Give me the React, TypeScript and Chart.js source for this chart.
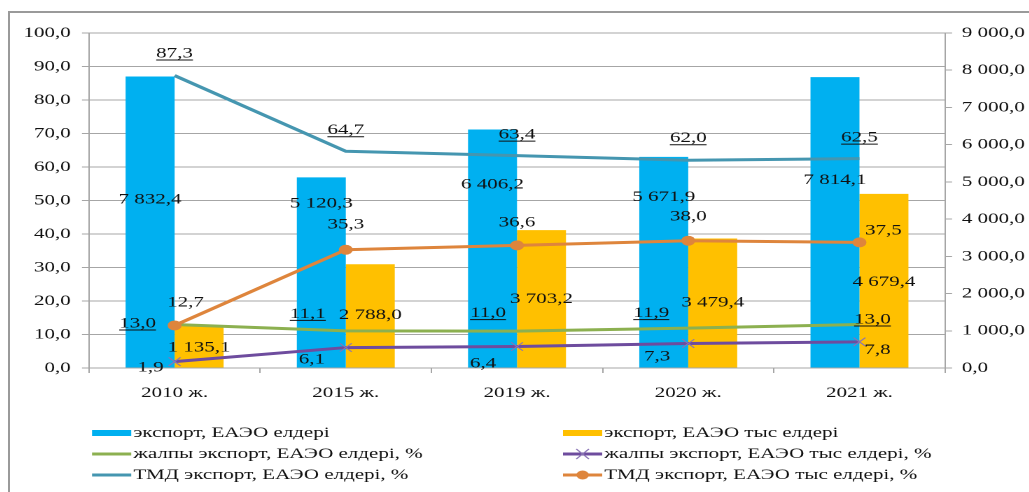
import React, { useEffect, useRef } from "react";
import { Chart, registerables } from "chart.js";

Chart.register(...registerables);

// ---- data ----
const years = ["2010 ж.", "2015 ж.", "2019 ж.", "2020 ж.", "2021 ж."];
const exportEaeu = [7832.4, 5120.3, 6406.2, 5671.9, 7814.1];
const exportNonEaeu = [1135.1, 2788.0, 3703.2, 3479.4, 4679.4];
const totalShareEaeu = [13.0, 11.1, 11.0, 11.9, 13.0];
const totalShareNonEaeu = [1.9, 6.1, 6.4, 7.3, 7.8];
const cisShareEaeu = [87.3, 64.7, 63.4, 62.0, 62.5];
const cisShareNonEaeu = [12.7, 35.3, 36.6, 38.0, 37.5];
const leftAxisMax = 100;
const leftAxisStep = 10;
const rightAxisMax = 9000;
const rightAxisStep = 1000;

const seriesNames = [
  "экспорт, ЕАЭО елдері",
  "экспорт, ЕАЭО тыс елдері",
  "жалпы экспорт, ЕАЭО елдері, %",
  "жалпы экспорт, ЕАЭО тыс елдері, %",
  "ТМД экспорт, ЕАЭО елдері, %",
  "ТМД экспорт, ЕАЭО тыс елдері, %",
];

// ---- styling ----
const S = 1.4; // horizontal stretch of the whole picture
const CANVAS_W = 728;
const CANVAS_H = 479;
const FONT = "'Liberation Serif', 'Times New Roman', serif";
const TEXT = "#111";
const GRID = "#a6a6a6";
const BLUE = "#00b0f0";
const YELLOW = "#ffc000";
const GREEN = "#8cb050";
const PURPLE = "#6e4c9e";
const PURPLE_MARK = "#8a74b5";
const TEAL = "#4596b0";
const ORANGE = "#de853c";

// label offsets from each mark (page px, [dx, dy]) and underline flag, by dataset index
const labelOffsets: [number, number][][] = [
  [[0, 123], [0, 26], [0, 55], [0, 40], [0, 103]],
  [[0, 22], [0, 51], [0, 69], [0, 64], [0, 88]],
  [[-37, -1], [-38, -17], [-29, -18], [-37, -15], [13, -5]],
  [[-24, 6], [-34, 12], [-34, 17], [-31, 13], [18, 8]],
  [[0, -22], [0, -21], [0, -21], [0, -22], [0, -21]],
  [[11, -23], [0, -25], [0, -23], [0, -24], [24, -12]],
];
const labelUnderline = [false, false, true, false, true, false];

function fmt(v: number): string {
  const [i, d] = Number(v).toFixed(1).split(".");
  return i.replace(/\B(?=(\d{3})+(?!\d))/g, " ") + "," + d;
}

const valueLabels = {
  id: "valueLabels",
  afterDatasetsDraw(chart: any) {
    const ctx = chart.ctx;
    ctx.save();
    ctx.font = `15px ${FONT}`;
    ctx.fillStyle = TEXT;
    ctx.strokeStyle = TEXT;
    ctx.lineWidth = 1;
    ctx.textAlign = "center";
    ctx.textBaseline = "middle";
    chart.data.datasets.forEach((ds: any, di: number) => {
      const meta = chart.getDatasetMeta(di);
      meta.data.forEach((el: any, i: number) => {
        const [dx, dy] = labelOffsets[di][i];
        const x = el.x + dx / S;
        const y = el.y + dy;
        const txt = fmt(ds.data[i]);
        ctx.fillText(txt, x, y);
        if (labelUnderline[di]) {
          const w = ctx.measureText(txt).width;
          ctx.beginPath();
          ctx.moveTo(x - w / 2, y + 6.5);
          ctx.lineTo(x + w / 2, y + 6.5);
          ctx.stroke();
        }
      });
    });
    ctx.restore();
  },
};

// legend layout (canvas px)
const legendCols = [58.6, 395];
const legendRows = [420, 441, 462];
const legendSymbolW = 28;

const customLegend = {
  id: "customLegend",
  afterDraw(chart: any) {
    const ctx = chart.ctx;
    ctx.save();
    ctx.font = `15px ${FONT}`;
    ctx.textBaseline = "middle";
    ctx.textAlign = "left";
    chart.data.datasets.forEach((ds: any, di: number) => {
      const col = di % 2;
      const row = Math.floor(di / 2);
      const x0 = legendCols[col];
      const y = legendRows[row];
      const x1 = x0 + legendSymbolW;
      const xc = (x0 + x1) / 2;
      if (ds.type === "bar") {
        ctx.fillStyle = ds.backgroundColor;
        ctx.fillRect(x0, y - 3, legendSymbolW, 6);
      } else {
        ctx.strokeStyle = ds.borderColor;
        ctx.lineWidth = 3;
        ctx.beginPath();
        ctx.moveTo(x0, y);
        ctx.lineTo(x1, y);
        ctx.stroke();
        if (ds.pointStyle === "crossRot") {
          ctx.strokeStyle = ds.pointBorderColor;
          ctx.lineWidth = 1;
          ctx.beginPath();
          ctx.moveTo(xc - 4.5, y - 5);
          ctx.lineTo(xc + 4.5, y + 5);
          ctx.moveTo(xc - 4.5, y + 5);
          ctx.lineTo(xc + 4.5, y - 5);
          ctx.stroke();
        } else if (ds.pointStyle === "circle" && ds.pointRadius > 0) {
          ctx.fillStyle = ds.pointBackgroundColor;
          ctx.beginPath();
          ctx.arc(xc, y, 4.5, 0, Math.PI * 2);
          ctx.fill();
        }
      }
      ctx.fillStyle = TEXT;
      ctx.fillText(seriesNames[di], x1 + 1.5, y);
    });
    ctx.restore();
  },
};

export default function App() {
  const canvasRef = useRef<HTMLCanvasElement | null>(null);

  useEffect(() => {
    if (!canvasRef.current) return;
    const tickFont = { family: FONT, size: 15 };
    const chart = new Chart(canvasRef.current, {
      type: "bar",
      data: {
        labels: years,
        datasets: [
          {
            type: "bar",
            label: seriesNames[0],
            data: exportEaeu,
            backgroundColor: BLUE,
            yAxisID: "y1",
            order: 2,
            categoryPercentage: 0.572,
            barPercentage: 1,
          },
          {
            type: "bar",
            label: seriesNames[1],
            data: exportNonEaeu,
            backgroundColor: YELLOW,
            yAxisID: "y1",
            order: 2,
            categoryPercentage: 0.572,
            barPercentage: 1,
          },
          {
            type: "line",
            label: seriesNames[2],
            data: totalShareEaeu,
            borderColor: GREEN,
            borderWidth: 3,
            pointRadius: 0,
            pointStyle: "circle",
            yAxisID: "y",
            order: 1,
            tension: 0,
          },
          {
            type: "line",
            label: seriesNames[3],
            data: totalShareNonEaeu,
            borderColor: PURPLE,
            borderWidth: 3,
            pointStyle: "crossRot",
            pointRadius: 6,
            pointBorderColor: PURPLE_MARK,
            pointBorderWidth: 1,
            yAxisID: "y",
            order: 1,
            tension: 0,
          },
          {
            type: "line",
            label: seriesNames[4],
            data: cisShareEaeu,
            borderColor: TEAL,
            borderWidth: 3,
            pointRadius: 0,
            pointStyle: "circle",
            yAxisID: "y",
            order: 1,
            tension: 0,
          },
          {
            type: "line",
            label: seriesNames[5],
            data: cisShareNonEaeu,
            borderColor: ORANGE,
            borderWidth: 3,
            pointStyle: "circle",
            pointRadius: 5,
            pointBackgroundColor: ORANGE,
            pointBorderColor: ORANGE,
            pointBorderWidth: 0,
            yAxisID: "y",
            order: 0,
            tension: 0,
          },
        ] as any,
      },
      options: {
        responsive: false,
        animation: false,
        devicePixelRatio: 2,
        layout: { padding: { top: 20, left: 0, right: 0, bottom: 0 } },
        plugins: {
          legend: { display: false },
          tooltip: { enabled: false },
        },
        scales: {
          x: {
            grid: {
              offset: true,
              drawOnChartArea: false,
              drawTicks: true,
              tickLength: 5,
              color: GRID,
            },
            border: { display: true, color: GRID },
            ticks: { font: tickFont, color: TEXT, padding: 11, maxRotation: 0 },
            afterFit: (s: any) => {
              s.height = 124;
            },
          },
          y: {
            position: "left",
            min: 0,
            max: leftAxisMax,
            ticks: {
              stepSize: leftAxisStep,
              font: tickFont,
              color: TEXT,
              padding: 8,
              callback: (v: any) => fmt(Number(v)),
            },
            grid: { color: GRID, tickLength: 5 },
            border: { display: true, color: GRID },
            afterFit: (s: any) => {
              s.width = 56.4;
            },
          },
          y1: {
            position: "right",
            min: 0,
            max: rightAxisMax,
            ticks: {
              stepSize: rightAxisStep,
              font: tickFont,
              color: TEXT,
              padding: 7,
              callback: (v: any) => fmt(Number(v)),
            },
            grid: { drawOnChartArea: false, color: GRID, tickLength: 5 },
            border: { display: true, color: GRID },
            afterFit: (s: any) => {
              s.width = 60.1;
            },
          },
        },
      } as any,
      plugins: [valueLabels, customLegend],
    });
    return () => chart.destroy();
  }, []);

  return (
    <div
      style={{
        position: "fixed",
        left: 8,
        top: 11,
        width: 1021,
        height: 481,
        boxSizing: "border-box",
        borderLeft: "2px solid #9a9a9a",
        borderTop: "2px solid #9a9a9a",
        overflow: "hidden",
        background: "#fff",
      }}
    >
      <canvas
        ref={canvasRef}
        width={CANVAS_W}
        height={CANVAS_H}
        style={{
          display: "block",
          transform: `scaleX(${S})`,
          transformOrigin: "0 0",
        }}
      />
    </div>
  );
}
